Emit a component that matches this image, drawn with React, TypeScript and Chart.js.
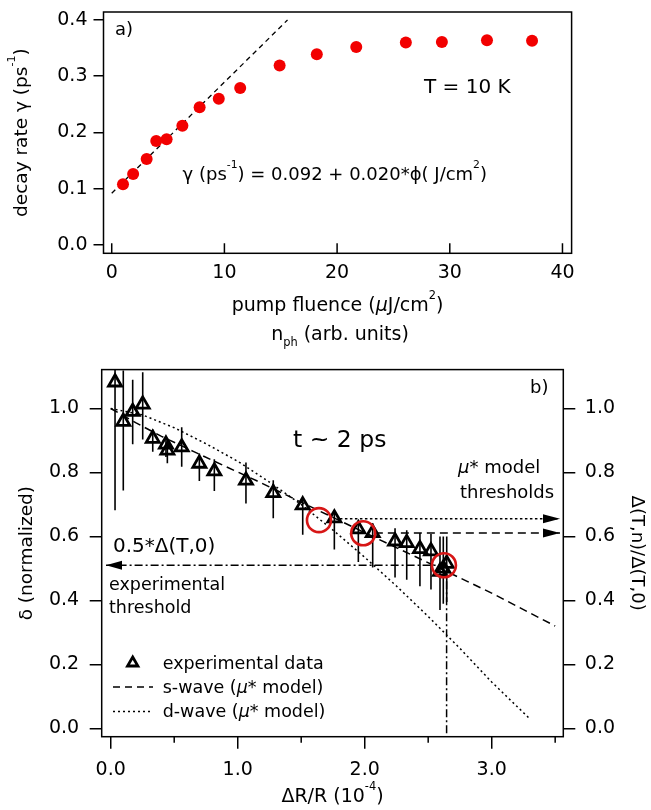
import React, { useEffect, useRef } from 'react';
import { Chart, registerables } from 'chart.js';
Chart.register(...registerables);

const FONT = '"DejaVu Sans", sans-serif';

// ---------- Panel a data ----------
const FLUENCE = [1.0, 1.9, 3.1, 3.95, 4.87, 6.27, 7.8, 9.5, 11.4, 14.9, 18.2, 21.7, 26.1, 29.3, 33.3, 37.3];
const GAMMA = [0.108, 0.126, 0.153, 0.185, 0.188, 0.212, 0.245, 0.26, 0.279, 0.319, 0.339, 0.352, 0.36, 0.361, 0.364, 0.363];
const FIT_X = [0, 15.6];
const FIT_Y = [0.092, 0.4];
const A_X_TICKS = [0, 10, 20, 30, 40];
const A_X_LABELS = ['0', '10', '20', '30', '40'];
const A_Y_TICKS = [0, 0.1, 0.2, 0.3, 0.4];
const A_Y_LABELS = ['0.0', '0.1', '0.2', '0.3', '0.4'];

// ---------- Panel b data ----------
const DR = [0.034, 0.099, 0.173, 0.252, 0.331, 0.435, 0.446, 0.559, 0.698, 0.816, 1.065, 1.28, 1.512, 1.761, 1.95, 2.063, 2.239, 2.331, 2.435, 2.522, 2.593, 2.619, 2.646];
const DELTA = [1.082, 0.959, 0.99, 1.013, 0.906, 0.888, 0.869, 0.879, 0.828, 0.804, 0.775, 0.736, 0.698, 0.657, 0.623, 0.611, 0.585, 0.58, 0.561, 0.554, 0.49, 0.5, 0.515];
const ERR_UP = [0.1, 0.16, 0.1, 0.1, 0.028, 0.02, 0.03, 0.062, 0.031, 0.037, 0.056, 0.04, 0.02, 0.025, 0.025, 0.03, 0.041, 0.039, 0.05, 0.054, 0.11, 0.1, 0.085];
const ERR_DN = [0.4, 0.215, 0.102, 0.11, 0.041, 0.04, 0.04, 0.061, 0.055, 0.062, 0.072, 0.079, 0.093, 0.098, 0.103, 0.108, 0.113, 0.115, 0.117, 0.12, 0.12, 0.11, 0.12];
const S_X = [0, 0.2, 0.4, 0.65, 0.8, 1.15, 1.5, 2.0, 2.6, 3.0, 3.5];
const S_Y = [1.0, 0.955, 0.913, 0.866, 0.838, 0.774, 0.707, 0.612, 0.499, 0.423, 0.32];
const D_X = [0, 0.25, 0.5, 0.75, 1.0, 1.25, 1.5, 1.75, 2.0, 2.25, 2.5, 2.75, 3.0, 3.3];
const D_Y = [1.0, 0.98, 0.94, 0.89, 0.835, 0.77, 0.7, 0.62, 0.535, 0.445, 0.35, 0.25, 0.145, 0.03];
const CIRC_X = [1.64, 1.988, 2.624];
const CIRC_Y = [0.651, 0.61, 0.51];
const ARROW_Y = [0.655, 0.611];
const ARROW_X0 = [1.805, 2.08];
const ARROW_TIP = 3.538;
const EXP_Y = 0.51;
const EXP_X = 2.645;
const EXP_TIP = -0.037;
const B_X_MAJOR = [0, 1, 2, 3];
const B_X_LABELS = ['0.0', '1.0', '2.0', '3.0'];
const B_X_MINOR = [0.5, 1.5, 2.5, 3.5];
const B_Y_TICKS = [0, 0.2, 0.4, 0.6, 0.8, 1.0];
const B_Y_LABELS = ['0.0', '0.2', '0.4', '0.6', '0.8', '1.0'];
const B_X_MIN = -0.071, B_X_MAX = 3.564, B_Y_MIN = -0.026, B_Y_MAX = 1.1216;

const BY = 355; // top of canvas b in page coords

type Seg = { t: string; sup?: boolean; sub?: boolean; it?: boolean };
function drawRich(ctx: any, segs: Seg[], x: number, y: number, size: number, align: string, rot = 0) {
  ctx.save();
  ctx.translate(x, y);
  if (rot) ctx.rotate(rot);
  ctx.textBaseline = 'alphabetic';
  ctx.textAlign = 'left';
  ctx.fillStyle = '#000';
  const fontFor = (s: Seg) => `${s.it ? 'italic ' : ''}${s.sup || s.sub ? size * 0.6 : size}px ${FONT}`;
  let w = 0;
  for (const s of segs) { ctx.font = fontFor(s); w += ctx.measureText(s.t).width; }
  let cx = align === 'center' ? -w / 2 : 0;
  for (const s of segs) {
    ctx.font = fontFor(s);
    const dy = s.sup ? -size * 0.65 : s.sub ? size * 0.3 : 0;
    ctx.fillText(s.t, cx, dy);
    cx += ctx.measureText(s.t).width;
  }
  ctx.restore();
}

const zeroPad = (s: any) => { s.paddingTop = 0; s.paddingBottom = 0; s.paddingLeft = 0; s.paddingRight = 0; };
const labelFor = (vals: number[], labels: string[]) => (v: any) => {
  const i = vals.findIndex((t) => Math.abs(t - v) < 1e-9);
  return i >= 0 ? labels[i] : '';
};
const tickFont = { family: FONT, size: 19 };

const panelAPlugin = {
  id: 'panelA',
  afterDraw(chart: any) {
    const { ctx, chartArea: ca, scales } = chart;
    const x = scales.x;
    ctx.save();
    ctx.strokeStyle = '#000';
    ctx.lineWidth = 1.5;
    ctx.setLineDash([]);
    ctx.strokeRect(ca.left, ca.top, ca.right - ca.left, ca.bottom - ca.top);
    ctx.beginPath();
    A_X_TICKS.forEach((v) => {
      const px = x.getPixelForValue(v);
      ctx.moveTo(px, ca.bottom);
      ctx.lineTo(px, ca.bottom - 10);
    });
    ctx.stroke();
    drawRich(ctx, [{ t: 'a)' }], 115, 35, 18, 'left');
    drawRich(ctx, [{ t: 'T = 10 K' }], 424, 93, 20, 'left');
    drawRich(ctx, [{ t: 'γ (ps' }, { t: '-1', sup: true }, { t: ') = 0.092 + 0.020*ϕ( J/cm' }, { t: '2', sup: true }, { t: ')' }], 182.6, 180, 18, 'left');
    drawRich(ctx, [{ t: 'decay rate γ (ps' }, { t: '-1', sup: true }, { t: ')' }], 27, (ca.top + ca.bottom) / 2, 18.5, 'center', -Math.PI / 2);
    drawRich(ctx, [{ t: 'pump fluence (' }, { t: 'μ', it: true }, { t: 'J/cm' }, { t: '2', sup: true }, { t: ')' }], (ca.left + ca.right) / 2, 311, 19, 'center');
    drawRich(ctx, [{ t: 'n' }, { t: 'ph', sub: true }, { t: ' (arb. units)' }], 340, 340, 19, 'center');
    ctx.restore();
  },
};

const panelBPlugin = {
  id: 'panelB',
  beforeDatasetsDraw(chart: any) {
    const { ctx, chartArea: ca, scales } = chart;
    const x = scales.x, y = scales.y;
    ctx.save();
    ctx.beginPath();
    ctx.rect(ca.left, ca.top, ca.right - ca.left, ca.bottom - ca.top);
    ctx.clip();
    ctx.strokeStyle = '#000';
    ctx.lineWidth = 1.6;
    ctx.setLineDash([]);
    DR.forEach((v, i) => {
      const px = x.getPixelForValue(v);
      ctx.beginPath();
      ctx.moveTo(px, y.getPixelForValue(DELTA[i] + ERR_UP[i]));
      ctx.lineTo(px, y.getPixelForValue(DELTA[i] - ERR_DN[i]));
      ctx.stroke();
    });
    ctx.restore();
  },
  afterDatasetsDraw(chart: any) {
    const { ctx, scales } = chart;
    const x = scales.x, y = scales.y;
    ctx.save();
    ctx.fillStyle = '#000';
    const tip = x.getPixelForValue(ARROW_TIP);
    ARROW_Y.forEach((v) => {
      const py = y.getPixelForValue(v);
      ctx.beginPath();
      ctx.moveTo(tip, py);
      ctx.lineTo(tip - 17, py - 4.5);
      ctx.lineTo(tip - 17, py + 4.5);
      ctx.closePath();
      ctx.fill();
    });
    const tl = x.getPixelForValue(EXP_TIP);
    const pe = y.getPixelForValue(EXP_Y);
    ctx.beginPath();
    ctx.moveTo(tl, pe);
    ctx.lineTo(tl + 16, pe - 4.5);
    ctx.lineTo(tl + 16, pe + 4.5);
    ctx.closePath();
    ctx.fill();
    ctx.restore();
  },
  afterDraw(chart: any) {
    const { ctx, chartArea: ca, scales } = chart;
    const x = scales.x;
    ctx.save();
    ctx.strokeStyle = '#000';
    ctx.lineWidth = 1.5;
    ctx.setLineDash([]);
    ctx.strokeRect(ca.left, ca.top, ca.right - ca.left, ca.bottom - ca.top);
    ctx.beginPath();
    B_X_MINOR.forEach((v) => {
      const px = x.getPixelForValue(v);
      ctx.moveTo(px, ca.bottom);
      ctx.lineTo(px, ca.bottom + 6);
    });
    ctx.stroke();

    drawRich(ctx, [{ t: 'b)' }], 530, 393 - BY, 18, 'left');
    drawRich(ctx, [{ t: 't ~ 2 ps' }], 293, 447 - BY, 23.5, 'left');
    drawRich(ctx, [{ t: 'μ', it: true }, { t: '* model' }], 458, 473 - BY, 18, 'left');
    drawRich(ctx, [{ t: 'thresholds' }], 460, 498 - BY, 18, 'left');
    drawRich(ctx, [{ t: '0.5*Δ(T,0)' }], 113, 552 - BY, 20, 'left');
    drawRich(ctx, [{ t: 'experimental' }], 109, 590 - BY, 17.5, 'left');
    drawRich(ctx, [{ t: 'threshold' }], 109, 613 - BY, 17.5, 'left');

    // legend
    const tx = 132.7, ty = 663 - BY, r = 6;
    ctx.lineWidth = 2.8;
    ctx.beginPath();
    ctx.moveTo(tx, ty - r);
    ctx.lineTo(tx + r * Math.sin((2 * Math.PI) / 3), ty - r * Math.cos((2 * Math.PI) / 3));
    ctx.lineTo(tx + r * Math.sin((4 * Math.PI) / 3), ty - r * Math.cos((4 * Math.PI) / 3));
    ctx.closePath();
    ctx.stroke();
    ctx.lineWidth = 1.4;
    ctx.setLineDash([7, 5]);
    ctx.beginPath();
    ctx.moveTo(113, 687 - BY);
    ctx.lineTo(153, 687 - BY);
    ctx.stroke();
    ctx.setLineDash([2, 3]);
    ctx.beginPath();
    ctx.moveTo(113, 711.5 - BY);
    ctx.lineTo(153, 711.5 - BY);
    ctx.stroke();
    ctx.setLineDash([]);
    drawRich(ctx, [{ t: 'experimental data' }], 162.7, 668.5 - BY, 17.5, 'left');
    drawRich(ctx, [{ t: 's-wave (' }, { t: 'μ', it: true }, { t: '* model)' }], 162.7, 693 - BY, 17.5, 'left');
    drawRich(ctx, [{ t: 'd-wave (' }, { t: 'μ', it: true }, { t: '* model)' }], 162.7, 717 - BY, 17.5, 'left');

    // axis titles
    const cy = (ca.top + ca.bottom) / 2;
    drawRich(ctx, [{ t: 'ΔR/R (10' }, { t: '-4', sup: true }, { t: ')' }], (ca.left + ca.right) / 2, 802 - BY, 19, 'center');
    drawRich(ctx, [{ t: 'δ (normalized)' }], 32, cy, 18.5, 'center', -Math.PI / 2);
    drawRich(ctx, [{ t: 'Δ(T,n)/Δ(T,0)' }], 632, cy, 18, 'center', Math.PI / 2);
    ctx.restore();
  },
};

function lineDs(label: string, xs: number[], ys: number[], dash: number[], order: number) {
  return {
    type: 'line',
    label,
    data: xs.map((x, i) => ({ x, y: ys[i] })),
    borderColor: '#000',
    borderWidth: 1.5,
    borderDash: dash,
    pointRadius: 0,
    fill: false,
    tension: 0,
    order,
  };
}

export default function App() {
  const refA = useRef<HTMLCanvasElement>(null);
  const refB = useRef<HTMLCanvasElement>(null);

  useEffect(() => {
    const chartA = new Chart(refA.current as any, {
      type: 'scatter',
      data: {
        datasets: [
          {
            label: 'decay rate',
            data: FLUENCE.map((x, i) => ({ x, y: GAMMA[i] })),
            pointRadius: 6,
            pointBackgroundColor: 'rgb(242,0,0)',
            pointBorderWidth: 0,
            order: 0,
          } as any,
          { ...lineDs('fit', FIT_X, FIT_Y, [5, 4], 1), borderWidth: 1.3 } as any,
        ],
      },
      options: {
        responsive: false,
        animation: false,
        devicePixelRatio: 1,
        layout: { padding: { left: 0, right: 651 - 571.6, top: 12, bottom: 0 } },
        plugins: { legend: { display: false }, tooltip: { enabled: false } },
        scales: {
          x: {
            type: 'linear',
            min: -0.73,
            max: 40.81,
            afterBuildTicks: (s: any) => { s.ticks = A_X_TICKS.map((value) => ({ value })); },
            afterFit: (s: any) => { s.height = 355 - 253.3; zeroPad(s); },
            ticks: { callback: labelFor(A_X_TICKS, A_X_LABELS), font: tickFont, color: '#000', padding: 8, maxRotation: 0, autoSkip: false },
            grid: { display: true, drawOnChartArea: false, drawTicks: false },
            border: { display: false },
          },
          y: {
            type: 'linear',
            min: -0.0148,
            max: 0.4142,
            afterBuildTicks: (s: any) => { s.ticks = A_Y_TICKS.map((value) => ({ value })); },
            afterFit: (s: any) => { s.width = 103.5; zeroPad(s); },
            ticks: { callback: labelFor(A_Y_TICKS, A_Y_LABELS), font: tickFont, color: '#000', padding: 6, autoSkip: false },
            grid: { display: true, drawOnChartArea: false, drawTicks: true, tickLength: 10, color: '#000', lineWidth: 1.5 },
            border: { display: false },
          },
        },
      } as any,
      plugins: [panelAPlugin],
    });

    const chartB = new Chart(refB.current as any, {
      type: 'scatter',
      data: {
        datasets: [
          {
            label: 'thresholds',
            data: CIRC_X.map((x, i) => ({ x, y: CIRC_Y[i] })),
            pointStyle: 'circle',
            pointRadius: 12,
            pointBorderWidth: 2.6,
            pointBorderColor: 'rgb(215,22,22)',
            pointBackgroundColor: 'rgba(0,0,0,0)',
            order: 0,
          } as any,
          {
            label: 'experimental data',
            data: DR.map((x, i) => ({ x, y: DELTA[i] })),
            pointStyle: 'triangle',
            pointRadius: 7.5,
            pointBorderWidth: 2.8,
            pointBorderColor: '#000',
            pointBackgroundColor: 'rgba(0,0,0,0)',
            order: 1,
          } as any,
          lineDs('s-wave (μ* model)', S_X, S_Y, [8, 5], 2) as any,
          lineDs('d-wave (μ* model)', D_X, D_Y, [2, 3], 3) as any,
          lineDs('d threshold', [ARROW_X0[0], ARROW_TIP], [ARROW_Y[0], ARROW_Y[0]], [2.5, 2.5], 4) as any,
          lineDs('s threshold', [ARROW_X0[1], ARROW_TIP], [ARROW_Y[1], ARROW_Y[1]], [8, 5], 5) as any,
          lineDs('exp threshold', [EXP_X, EXP_TIP], [EXP_Y, EXP_Y], [8, 3, 2, 3], 6) as any,
          lineDs('exp vertical', [EXP_X, EXP_X], [EXP_Y, B_Y_MIN], [8, 3, 2, 3], 7) as any,
        ],
      },
      options: {
        responsive: false,
        animation: false,
        devicePixelRatio: 1,
        layout: { padding: { left: 0, right: 0, top: 364 - BY, bottom: 0 } },
        plugins: { legend: { display: false }, tooltip: { enabled: false } },
        scales: {
          x: {
            type: 'linear',
            min: B_X_MIN,
            max: B_X_MAX,
            afterBuildTicks: (s: any) => { s.ticks = B_X_MAJOR.map((value) => ({ value })); },
            afterFit: (s: any) => { s.height = 455 - (736.7 - BY); zeroPad(s); },
            ticks: { callback: labelFor(B_X_MAJOR, B_X_LABELS), font: tickFont, color: '#000', padding: 10, maxRotation: 0, autoSkip: false },
            grid: { display: true, drawOnChartArea: false, drawTicks: true, tickLength: 12, color: '#000', lineWidth: 1.5 },
            border: { display: false },
          },
          y: {
            type: 'linear',
            position: 'left',
            min: B_Y_MIN,
            max: B_Y_MAX,
            afterBuildTicks: (s: any) => { s.ticks = B_Y_TICKS.map((value) => ({ value })); },
            afterFit: (s: any) => { s.width = 101.7; zeroPad(s); },
            ticks: { callback: labelFor(B_Y_TICKS, B_Y_LABELS), font: tickFont, color: '#000', padding: 10.5, autoSkip: false },
            grid: { display: true, drawOnChartArea: false, drawTicks: true, tickLength: 12, color: '#000', lineWidth: 1.5 },
            border: { display: false },
          },
          y2: {
            type: 'linear',
            position: 'right',
            min: B_Y_MIN,
            max: B_Y_MAX,
            afterBuildTicks: (s: any) => { s.ticks = B_Y_TICKS.map((value) => ({ value })); },
            afterFit: (s: any) => { s.width = 651 - 563.3; zeroPad(s); },
            ticks: { callback: labelFor(B_Y_TICKS, B_Y_LABELS), font: tickFont, color: '#000', padding: 9.5, autoSkip: false },
            grid: { display: true, drawOnChartArea: false, drawTicks: true, tickLength: 12, color: '#000', lineWidth: 1.5 },
            border: { display: false },
          },
        },
      } as any,
      plugins: [panelBPlugin],
    });

    return () => {
      chartA.destroy();
      chartB.destroy();
    };
  }, []);

  return (
    <div style={{ position: 'absolute', left: 0, top: 0, width: 651, height: 810, background: '#fff' }}>
      <canvas ref={refA} width={651} height={355} style={{ position: 'absolute', left: 0, top: 0, width: 651, height: 355 }} />
      <canvas ref={refB} width={651} height={455} style={{ position: 'absolute', left: 0, top: BY, width: 651, height: 455 }} />
    </div>
  );
}
